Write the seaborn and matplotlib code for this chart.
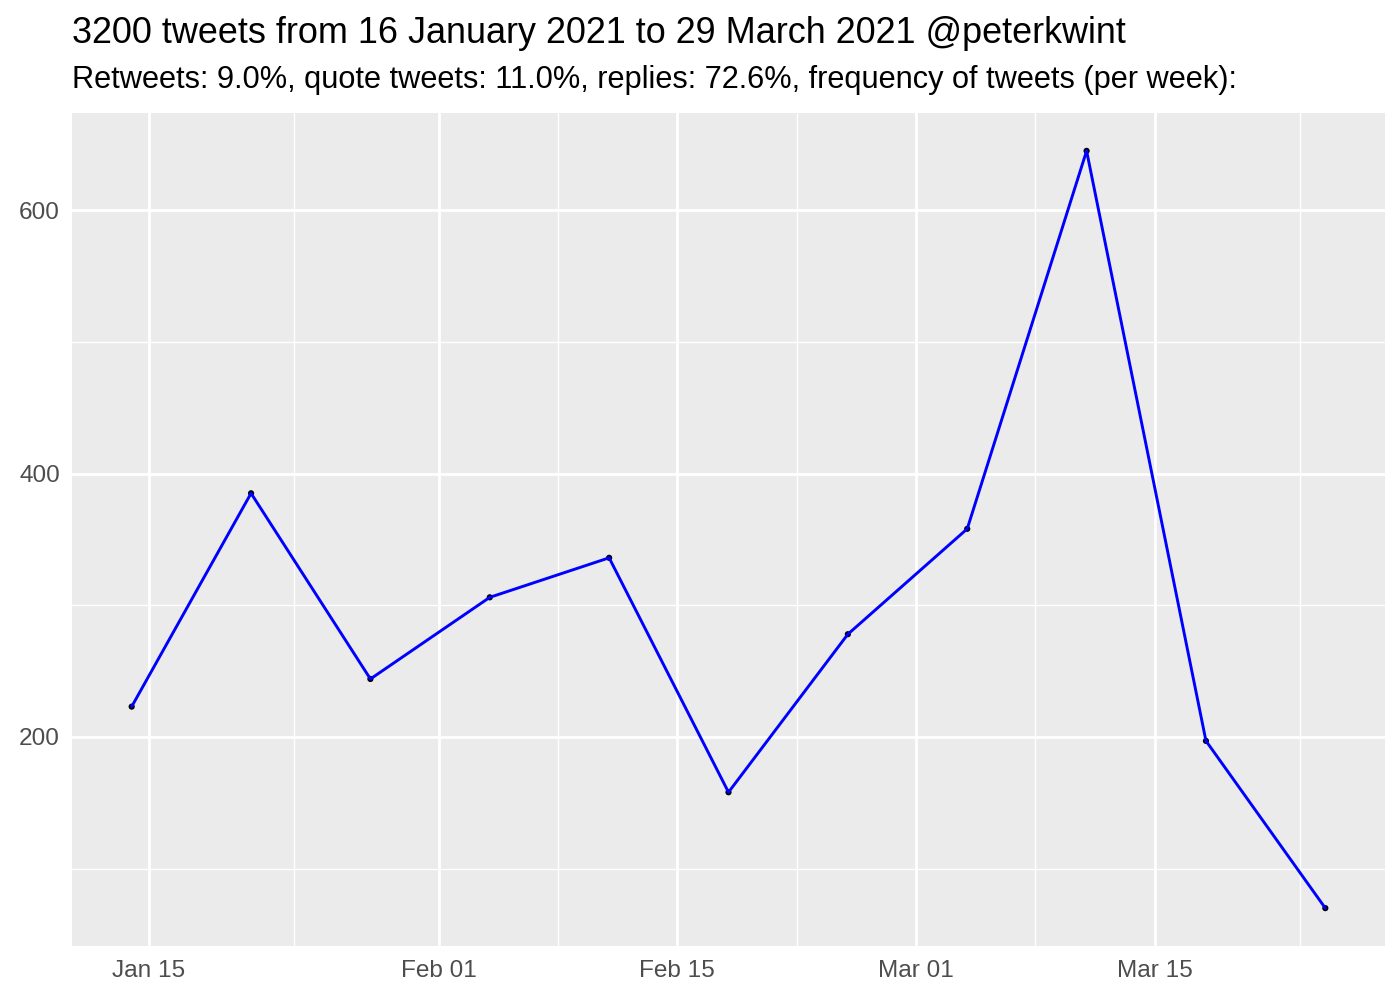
import matplotlib
matplotlib.use("Agg")
import matplotlib.pyplot as plt
import matplotlib.dates as mdates
import seaborn as sns
import pandas as pd
import numpy as np

weeks = ["2021-01-14", "2021-01-21", "2021-01-28", "2021-02-04", "2021-02-11",
         "2021-02-18", "2021-02-25", "2021-03-04", "2021-03-11", "2021-03-18", "2021-03-25"]
counts = [223, 385, 244, 306, 336, 158, 278, 358, 645, 197, 70]
x_tick_dates = ["2021-01-15", "2021-02-01", "2021-02-15", "2021-03-01", "2021-03-15"]
x_tick_labels = ["Jan 15", "Feb 01", "Feb 15", "Mar 01", "Mar 15"]
x_minor_dates = ["2021-01-23 12:00", "2021-02-08 00:00", "2021-02-22 00:00", "2021-03-08 00:00", "2021-03-23 12:00"]
y_ticks = [200, 400, 600]
y_minor = [100, 300, 500]

title = "3200 tweets from 16 January 2021 to 29 March 2021 @peterkwint"
subtitle = "Retweets: 9.0%, quote tweets: 11.0%, replies: 72.6%, frequency of tweets (per week):"

df = pd.DataFrame({"week": pd.to_datetime(weeks), "n": counts})

sns.set_theme(style="darkgrid")
plt.rcParams["font.family"] = ["Liberation Sans", "DejaVu Sans"]

fig = plt.figure(figsize=(7, 5), dpi=200)
ax = fig.add_axes([72/1400, 54/1000, (1385-72)/1400, (946-113)/1000])
ax.set_facecolor("#EBEBEB")

sns.lineplot(data=df, x="week", y="n", ax=ax, color="#0000FF", linewidth=1.05, zorder=3)
sns.scatterplot(data=df, x="week", y="n", ax=ax, color="black", s=5, edgecolor="none", zorder=2)

d0 = df["week"].min(); d1 = df["week"].max()
span = d1 - d0
ax.set_xlim(d0 - span * 0.05, d1 + span * 0.05)
lo, hi = min(counts), max(counts)
ax.set_ylim(lo - (hi - lo) * 0.05, hi + (hi - lo) * 0.05)

ax.set_xticks(pd.to_datetime(x_tick_dates))
ax.set_xticklabels(x_tick_labels)
ax.set_xticks(pd.to_datetime(x_minor_dates, format="%Y-%m-%d %H:%M"), minor=True)
ax.set_yticks(y_ticks)
ax.set_yticklabels([str(v) for v in y_ticks])
ax.set_yticks(y_minor, minor=True)

ax.grid(which="major", color="white", linewidth=1.0)
ax.grid(which="minor", color="white", linewidth=0.5)
for s in ax.spines.values():
    s.set_visible(False)
ax.tick_params(axis="both", which="major", length=2.75, width=0.5, color="#333333",
               labelsize=8.8, labelcolor="#4D4D4D", pad=2.2)
ax.tick_params(axis="y", which="major", pad=1.6)
ax.tick_params(axis="both", which="minor", length=0)
ax.set_xlabel("")
ax.set_ylabel("")

fig.text(72/1400, 1 - 43/1000, title, fontsize=12.97, color="black", ha="left", va="baseline")
fig.text(72/1400, 1 - 88/1000, subtitle, fontsize=11.08, color="black", ha="left", va="baseline")

fig.savefig("out.png", dpi=200, facecolor="white")
